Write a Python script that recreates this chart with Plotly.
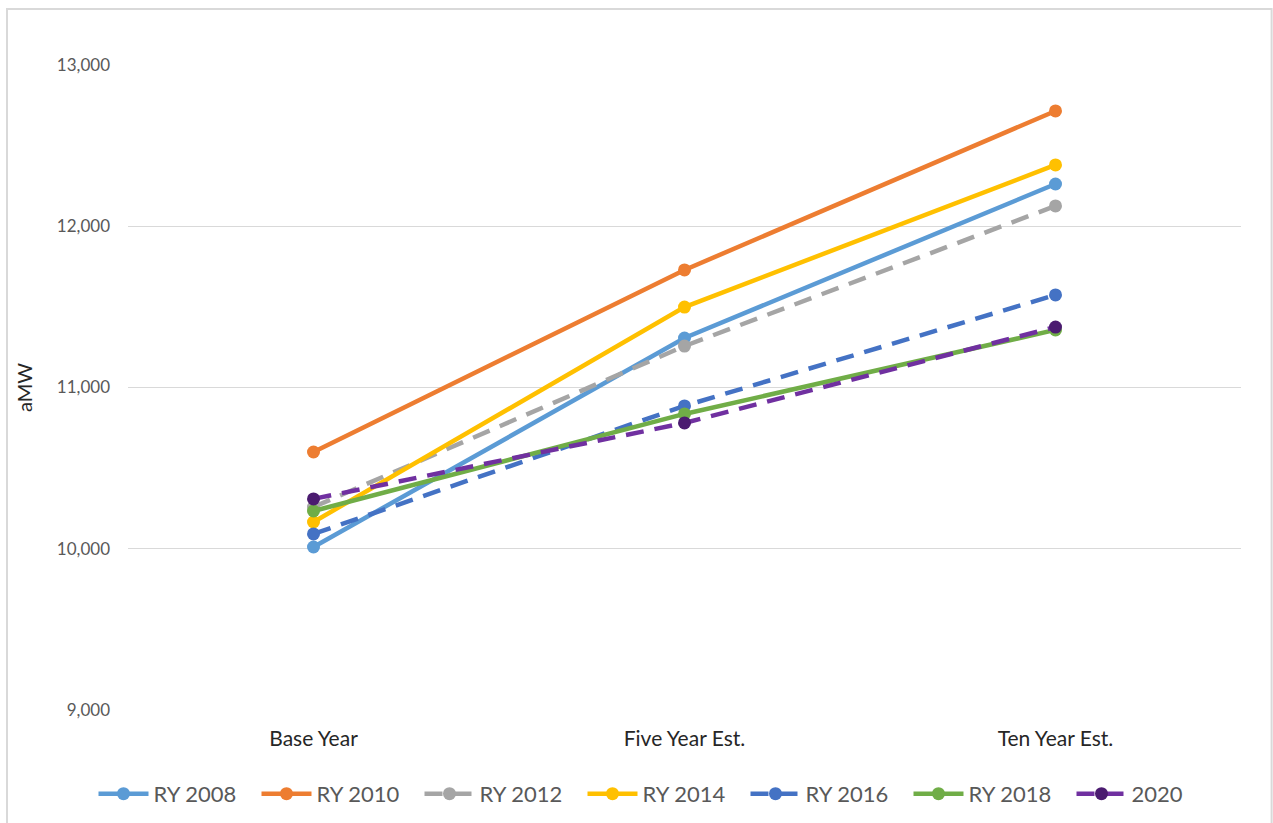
import plotly.graph_objects as go

categories = ["Base Year", "Five Year Est.", "Ten Year Est."]
series_names = ["RY 2008", "RY 2010", "RY 2012", "RY 2014", "RY 2016", "RY 2018", "2020"]
ry2008 = [10011, 11307, 12262]
ry2010 = [10600, 11729, 12715]
ry2012 = [10259, 11257, 12126]
ry2014 = [10166, 11499, 12380]
ry2016 = [10092, 10886, 11574]
ry2018 = [10234, 10836, 11357]
ry2020 = [10309, 10780, 11375]
y_ticks = [9000, 10000, 11000, 12000, 13000]

values = [ry2008, ry2010, ry2012, ry2014, ry2016, ry2018, ry2020]
line_colors = ["#5B9BD5", "#ED7D31", "#A5A5A5", "#FFC000", "#4472C4", "#70AD47", "#7030A0"]
marker_colors = ["#5B9BD5", "#ED7D31", "#A5A5A5", "#FFC000", "#4472C4", "#70AD47", "#4B1B70"]
dashes = ["solid", "solid", "18px,11px", "solid", "18px,11px", "solid", "18px,11px"]

fig = go.Figure()
for name, vals, lc, mc, d in zip(series_names, values, line_colors, marker_colors, dashes):
    fig.add_trace(go.Scatter(
        x=categories, y=vals, name=name, mode="lines+markers",
        line=dict(color=lc, width=4.5, dash=d),
        marker=dict(color=mc, size=13),
    ))

fig.update_layout(
    width=1273, height=823,
    margin=dict(l=128, r=32, t=65, b=113, autoexpand=False),
    paper_bgcolor="white", plot_bgcolor="white",
    font=dict(family="Lato, 'Open Sans', sans-serif", color="#595959"),
    xaxis=dict(
        type="category", range=[-0.5, 2.5], showgrid=False, zeroline=False,
        showline=False, ticks="", tickfont=dict(size=21, color="#262626"),
        ticklabelstandoff=14,
    ),
    yaxis=dict(
        range=[9000, 13000], tickvals=y_ticks, tickformat=",",
        showgrid=True, gridcolor="#D9D9D9", gridwidth=1, zeroline=False,
        showline=False, tickfont=dict(size=17, color="#595959"),
        title=dict(text="aMW", font=dict(size=20, color="#262626"), standoff=18),
        ticklabelstandoff=17,
    ),
    legend=dict(
        orientation="h", x=-0.031, xanchor="left", y=-0.13, yanchor="middle",
        font=dict(size=22, color="#595959"), itemwidth=50,
        entrywidth=98, entrywidthmode="pixels",
        traceorder="normal",
    ),
    showlegend=True,
    shapes=[dict(
        type="rect", xref="paper", yref="paper",
        x0=-0.1087, x1=1.0275, y0=-0.2, y1=1.0868,
        line=dict(color="#D9D9D9", width=2), fillcolor="rgba(0,0,0,0)", layer="below",
    )],
)

fig.write_html("out.html")
